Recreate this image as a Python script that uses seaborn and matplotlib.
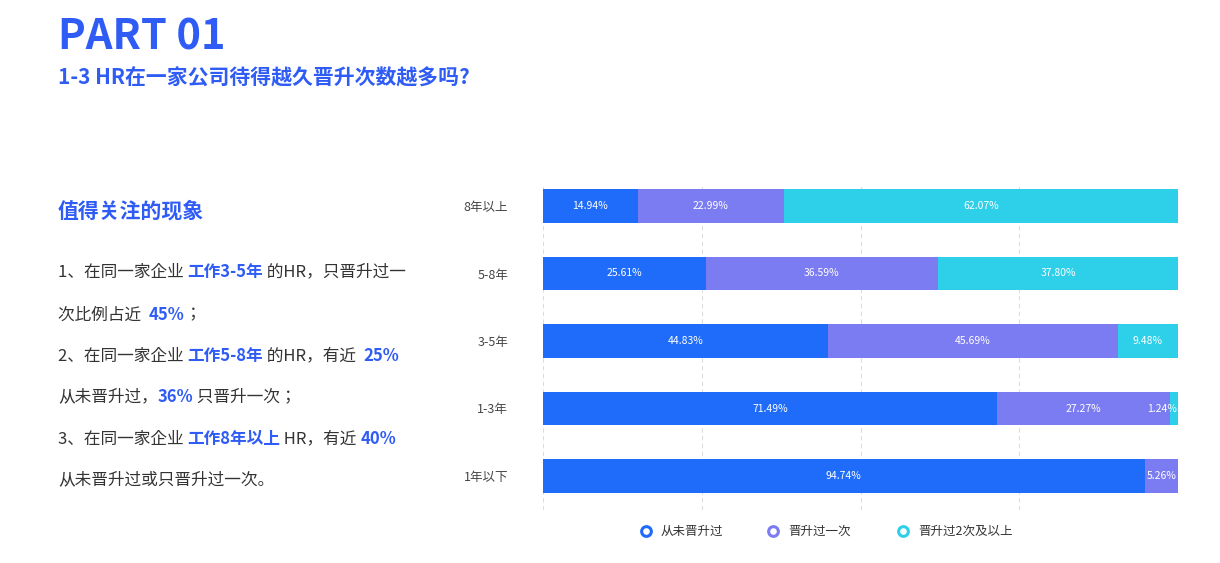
import matplotlib
matplotlib.use("Agg")
import matplotlib.pyplot as plt
from matplotlib.lines import Line2D
import seaborn as sns
import pandas as pd
import numpy as np

categories = ["8年以上", "5-8年", "3-5年", "1-3年", "1年以下"]
never = [14.94, 25.61, 44.83, 71.49, 94.74]
once = [22.99, 36.59, 45.69, 27.27, 5.26]
twice = [62.07, 37.80, 9.48, 1.24, 0.0]
series_names = ["从未晋升过", "晋升过一次", "晋升过2次及以上"]
colors = ["#1f6bfa", "#7c7cf2", "#2ecfe8"]

plt.rcParams["font.family"] = ["Noto Sans CJK JP", "Noto Sans CJK SC", "DejaVu Sans"]
BLUE = "#2f5cf5"

W, H = 1220, 563
fig = plt.figure(figsize=(W/100, H/100), dpi=100)
fig.patch.set_facecolor("white")

ax = fig.add_axes([543/W, 1-510/H, (1178-543)/W, (510-185)/H])
df = pd.DataFrame({"cat": categories, "n": never, "o": once, "t": twice})
left = np.zeros(len(categories))
for col, c, name in zip(["n", "o", "t"], colors, series_names):
    vals = df[col].values
    sns.barplot(x=df[col], y=df["cat"], color=c, ax=ax, orient="h", width=0.5, saturation=1)
    for p, l in zip(ax.patches[-len(vals):], left):
        p.set_x(l)
    for i, (v, l) in enumerate(zip(vals, left)):
        if v > 0:
            ax.text(l + v/2 if v > 3 else l + v - 0.1, i, f"{v:.2f}%", color="white", fontsize=7.5,
                    ha="center" if v > 3 else "right", va="center")
    left = left + vals
ax.set_xlim(0, 100)
# bar centers at 206..476 px -> spacing 67.5 px; axes 185..510
ax.set_ylim(4 + (510-476)/67.5, -(206-185)/67.5)
ax.set_xlabel(""); ax.set_ylabel("")
ax.set_xticks([0, 25, 50, 75, 100]); ax.set_xticklabels([])
ax.tick_params(length=0, axis="both")
ax.tick_params(axis="y", labelsize=9, colors="#444444", pad=25)
ax.grid(axis="x", linestyle=(0, (4, 3)), color="#dddddd", lw=0.8)
ax.set_axisbelow(True)
for s in ax.spines.values(): s.set_visible(False)

lx = [646, 773, 903]
for x, c, name in zip(lx, colors, series_names):
    fig.add_artist(Line2D([x/W], [1-531/H], marker="o", markersize=7, markerfacecolor="white",
                          markeredgecolor=c, markeredgewidth=2.2, transform=fig.transFigure))
    fig.text((x+15)/W, 1-531/H, name, color="#333333", fontsize=9, va="center")

fig.text(58/W, 1-38/H, "PART 01", color=BLUE, fontsize=30, fontweight="bold", va="center")
fig.text(58/W, 1-78/H, "1-3 HR在一家公司待得越久晋升次数越多吗?", color=BLUE, fontsize=15, fontweight="bold", va="center")
fig.text(58/W, 1-211/H, "值得关注的现象", color=BLUE, fontsize=15, fontweight="bold", va="center")

lines = [
    (272, [("1、在同一家企业 ", "#333333"), ("工作3-5年", BLUE), (" 的HR，只晋升过一", "#333333")]),
    (315, [("次比例占近  ", "#333333"), ("45%", BLUE), ("；", "#333333")]),
    (356, [("2、在同一家企业 ", "#333333"), ("工作5-8年", BLUE), (" 的HR，有近  ", "#333333"), ("25%", BLUE)]),
    (397, [("从未晋升过，", "#333333"), ("36%", BLUE), (" 只晋升一次；", "#333333")]),
    (439, [("3、在同一家企业 ", "#333333"), ("工作8年以上", BLUE), (" HR，有近 ", "#333333"), ("40%", BLUE)]),
    (480, [("从未晋升过或只晋升过一次。", "#333333")]),
]
fig.canvas.draw()
r = fig.canvas.get_renderer()
for y, parts in lines:
    x = 58
    for s, c in parts:
        t = fig.text(x/W, 1-y/H, s, color=c, fontsize=12, va="center",
                     fontweight="bold" if c == BLUE else "normal")
        x += t.get_window_extent(r).width

fig.savefig("out.png", dpi=100)
